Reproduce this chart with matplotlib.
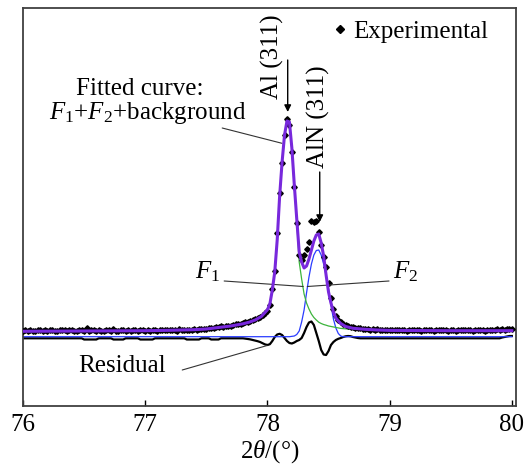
import matplotlib.pyplot as plt
import numpy as np

plt.rcParams["font.family"] = "Liberation Serif"
plt.rcParams["mathtext.fontset"] = "custom"
plt.rcParams["mathtext.rm"] = "Liberation Serif"
plt.rcParams["mathtext.it"] = "Liberation Serif:italic"

# measured scan, 0.02 deg steps from 76 to 80
two_theta = np.linspace(76, 80, 201)
exp_counts = [
    143, 153, 141, 151, 145, 139, 155, 148, 143, 151,
    140, 148, 153, 143, 138, 150, 146, 154, 142, 147,
    151, 143, 139, 149, 155, 144, 168, 141, 153, 146,
    143, 150, 145, 140, 152, 148, 143, 156, 145, 141,
    149, 153, 144, 148, 142, 151, 146, 140, 154, 149,
    145, 151, 143, 155, 148, 144, 152, 147, 153, 149,
    146, 154, 150, 145, 156, 151, 148, 155, 152, 150,
    156, 153, 161, 158, 164, 162, 168, 166, 174, 178,
    180, 186, 184, 191, 195, 195, 201, 206, 207, 214,
    220, 226, 233, 240, 248, 258, 268, 282, 298, 318,
    345, 400, 560, 740, 1120, 1520, 1820, 2100, 2260, 2200,
    1930, 1580, 1220, 900, 850, 900, 960, 1030, 1240, 1230,
    1240, 1130, 1000, 880, 780, 620, 470, 360, 290, 250,
    228, 212, 200, 192, 185, 178, 174, 168, 166, 163,
    160, 158, 155, 157, 153, 156, 152, 154, 150, 153,
    149, 152, 147, 151, 154, 148, 150, 145, 152, 149,
    146, 151, 148, 144, 152, 147, 150, 153, 145, 149,
    147, 152, 146, 150, 144, 151, 148, 145, 153, 147,
    150, 146, 152, 148, 144, 150, 147, 153, 149, 145,
    151, 148, 154, 152, 157, 155, 160, 153, 158, 160,
    165,
]
residual = [
    67, 67, 67, 67, 67, 67, 67, 67, 67, 67,
    67, 67, 67, 67, 67, 67, 67, 67, 67, 67,
    67, 67, 67, 67, 67, 55, 55, 55, 55, 55,
    55, 67, 67, 67, 67, 67, 67, 55, 55, 55,
    55, 55, 67, 67, 67, 67, 67, 67, 55, 55,
    55, 55, 55, 55, 67, 67, 67, 67, 67, 67,
    67, 67, 67, 67, 67, 67, 67, 55, 55, 55,
    55, 55, 55, 67, 67, 67, 67, 55, 55, 55,
    55, 67, 67, 67, 67, 67, 67, 67, 67, 67,
    67, 64, 60, 56, 50, 44, 38, 30, 18, 6,
    0, 8, 40, 80, 105, 112, 100, 70, 40, 20,
    15, 25, 40, 50, 70, 120, 180, 225, 235, 200,
    120, 40, -50, -95, -100, -60, 0, 30, 50, 62,
    70, 80, 87, 90, 88, 80, 75, 70, 67, 67,
    67, 67, 67, 67, 67, 67, 67, 67, 67, 67,
    67, 67, 67, 67, 67, 67, 67, 67, 67, 67,
    67, 67, 67, 67, 67, 67, 67, 67, 67, 67,
    67, 67, 67, 67, 67, 67, 67, 67, 67, 67,
    67, 67, 67, 67, 67, 67, 67, 67, 67, 67,
    67, 67, 67, 67, 67, 67, 75, 80, 85, 90,
    90,
]

# fitted curve F1+F2+background
fit_x = [76.0, 76.5, 77.0, 77.2, 77.4, 77.5, 77.6, 77.7, 77.8, 77.85, 77.9, 77.95,
         78.00, 78.02, 78.04, 78.06, 78.08, 78.10, 78.12, 78.14, 78.16, 78.18,
         78.20, 78.22, 78.24, 78.26, 78.28, 78.30, 78.32, 78.34, 78.36, 78.38,
         78.40, 78.42, 78.44, 78.46, 78.48, 78.50, 78.52, 78.54, 78.56, 78.58,
         78.60, 78.64, 78.70, 78.80, 78.90, 79.0, 79.5, 80.0]
fit_y = [137, 140, 143, 147, 153, 160, 175, 190, 212, 228, 250, 285,
         352, 410, 550, 730, 1050, 1490, 1830, 2100, 2240, 2230,
         1970, 1600, 1260, 930, 830, 770, 790, 860, 950, 1040,
         1100, 1110, 1020, 890, 700, 530, 420, 330, 270, 240,
         215, 185, 167, 157, 150, 146, 143, 143]

# F1 (Al 311)
f1_x = [76.0, 77.0, 77.4, 77.6, 77.8, 77.9, 78.0, 78.02, 78.04, 78.06, 78.08,
        78.10, 78.12, 78.14, 78.16, 78.18, 78.20, 78.22, 78.24, 78.26, 78.28,
        78.30, 78.32, 78.34, 78.36, 78.38, 78.40, 78.42, 78.44, 78.46, 78.48,
        78.50, 78.55, 78.60, 78.70, 78.80, 79.0, 80.0]
f1_y = [128, 133, 145, 168, 203, 242, 345, 400, 540, 720, 1040,
        1480, 1820, 2090, 2230, 2215, 1950, 1590, 1240, 830, 660,
        510, 420, 360, 310, 275, 250, 228, 215, 205, 198,
        190, 178, 166, 155, 150, 145, 140]

# F2 (AlN 311)
f2_x = [76.0, 78.18, 78.22, 78.24, 78.26, 78.28, 78.30, 78.32, 78.34, 78.36,
        78.38, 78.40, 78.42, 78.44, 78.46, 78.48, 78.50, 78.52, 78.54, 78.56,
        78.58, 78.60, 78.62, 80.0]
f2_y = [83, 83, 90, 105, 140, 230, 350, 520, 680, 810,
        900, 945, 950, 900, 810, 700, 560, 400, 260, 170,
        115, 90, 83, 83]

purple = "#7828dc"
blue = "#2a3cff"
green = "#3cb43c"

fig = plt.figure(figsize=(5.28, 4.70), dpi=100)
ax = fig.add_axes([23 / 528, 64 / 470, 493 / 528, 398 / 470])

ax.plot(two_theta, residual, color="black", lw=1.6, zorder=2)
ax.plot(f2_x, f2_y, color=blue, lw=0.9, zorder=2.5)
ax.plot(f1_x, f1_y, color=green, lw=0.9, zorder=2.5)
exp_line, = ax.plot(two_theta, exp_counts, "D", color="black", ms=2.8,
                    zorder=3, label="Experimental")
ax.plot(fit_x, fit_y, color=purple, lw=2.2, zorder=4)

ax.set_xlim(76, 80.034)
ax.set_ylim(-610, 3370)
ax.set_xticks([76, 77, 78, 79, 80])
ax.set_yticks([])
ax.tick_params(axis="x", direction="in", length=4, width=1, pad=6, labelsize=18)
for s in ax.spines.values():
    s.set_color("#404040")
    s.set_linewidth(1.3)
ax.set_xlabel(r"2$\theta$/(°)", fontsize=18, labelpad=1)

fs = 18
thin = dict(arrowstyle="-", lw=0.8, color="#333333", shrinkA=0, shrinkB=0)
head = dict(arrowstyle="-|>", lw=1.0, color="black", mutation_scale=10,
            shrinkA=0, shrinkB=0)

ax.text(76.959, 2560, "Fitted curve:", ha="center", va="center", fontsize=fs)
ax.text(77.020, 2320, r"$F_1$+$F_2$+background", ha="center", va="center", fontsize=fs)
ax.annotate("", xy=(78.119, 2017), xytext=(77.630, 2170), arrowprops=thin)

ax.text(78.039, 2880, "Al (311)", rotation=90, ha="center", va="center", fontsize=fs)
ax.annotate("", xy=(78.166, 2330), xytext=(78.166, 2850), arrowprops=head)
ax.text(78.416, 2285, "AlN (311)", rotation=90, ha="center", va="center", fontsize=fs)
ax.annotate("", xy=(78.428, 1230), xytext=(78.428, 1730), arrowprops=head)

ax.text(77.507, 730, r"$F_1$", ha="center", va="center", fontsize=fs)
ax.annotate("", xy=(78.293, 585), xytext=(77.646, 640), arrowprops=thin)
ax.text(79.128, 730, r"$F_2$", ha="center", va="center", fontsize=fs)
ax.annotate("", xy=(78.326, 585), xytext=(78.995, 640), arrowprops=thin)

ax.text(76.812, -210, "Residual", ha="center", va="center", fontsize=fs)
ax.annotate("", xy=(77.998, -5), xytext=(77.303, -250), arrowprops=thin)

ax.legend(handles=[exp_line], loc="center left", bbox_to_anchor=(0.604, 0.941),
          frameon=False, fontsize=fs, handlelength=0.5, handletextpad=0.3,
          borderpad=0, markerscale=1.4)

fig.savefig("out.png", dpi=100)
